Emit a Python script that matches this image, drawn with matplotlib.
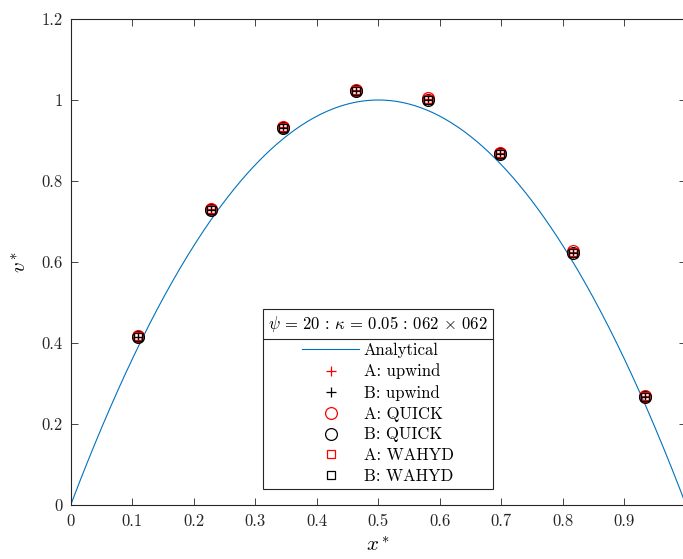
import numpy as np
import matplotlib
matplotlib.use("Agg")
import matplotlib.pyplot as plt
from matplotlib.ticker import FuncFormatter
from matplotlib.lines import Line2D

plt.rcParams['font.family'] = 'serif'
plt.rcParams['font.serif'] = ['cmr10']
plt.rcParams['mathtext.fontset'] = 'cm'
plt.rcParams['axes.formatter.use_mathtext'] = True

# sample locations and numerical results
x_pts = [0.110, 0.228, 0.345, 0.463, 0.581, 0.698, 0.816, 0.934]
v_upwind_a = [0.416, 0.730, 0.933, 1.024, 1.003, 0.869, 0.625, 0.269]
v_upwind_b = [0.414, 0.728, 0.931, 1.022, 1.001, 0.867, 0.623, 0.267]
v_quick_a = [0.418, 0.731, 0.934, 1.025, 1.004, 0.870, 0.626, 0.270]
v_quick_b = [0.414, 0.728, 0.931, 1.021, 1.000, 0.866, 0.622, 0.266]
v_wahyd_a = [0.417, 0.730, 0.933, 1.024, 1.003, 0.869, 0.625, 0.269]
v_wahyd_b = [0.414, 0.728, 0.931, 1.022, 1.001, 0.867, 0.623, 0.267]

legend_title = r'$\psi\,=\,20\,:\,\kappa\,=\,0.05\,:\,062\,\times\,062$'

# analytical profile
x_line = np.linspace(0, 1, 400)
v_line = 4 * x_line * (1 - x_line)

fig = plt.figure(figsize=(6.83, 5.59), dpi=100)
ax = fig.add_axes([70.7 / 683, 54 / 559, 615.3 / 683, 486 / 559])

ax.plot(x_line, v_line, color='#0072BD', lw=0.8, label='Analytical')
ax.plot(x_pts, v_upwind_a, ls='none', marker='+', ms=7, mew=0.9, color='red', label='A: upwind')
ax.plot(x_pts, v_upwind_b, ls='none', marker='+', ms=7, mew=0.9, color='black', label='B: upwind')
ax.plot(x_pts, v_quick_a, ls='none', marker='o', ms=8.5, mew=0.9, mfc='none', mec='red', label='A: QUICK')
ax.plot(x_pts, v_quick_b, ls='none', marker='o', ms=8.5, mew=0.9, mfc='none', mec='black', label='B: QUICK')
ax.plot(x_pts, v_wahyd_a, ls='none', marker='s', ms=5.5, mew=0.9, mfc='none', mec='red', label='A: WAHYD')
ax.plot(x_pts, v_wahyd_b, ls='none', marker='s', ms=5.5, mew=0.9, mfc='none', mec='black', label='B: WAHYD')

ax.set_xlim(0, 1)
ax.set_ylim(0, 1.2)
ax.set_xticks(np.arange(0, 1.01, 0.1))
ax.set_yticks(np.arange(0, 1.21, 0.2))
fmt = FuncFormatter(lambda v, p: '%g' % round(v, 2))
ax.xaxis.set_major_formatter(fmt)
ax.yaxis.set_major_formatter(fmt)
ax.tick_params(direction='in', length=5, width=0.6, colors='#262626',
               labelsize=12, top=True, right=True, pad=6)
for s in ax.spines.values():
    s.set_linewidth(0.8)
    s.set_color('#262626')

ax.set_xlabel(r'$x^*$', fontsize=15, labelpad=5)
ax.set_ylabel(r'$v^*$', fontsize=15, labelpad=8)

leg = ax.legend(loc='lower center', bbox_to_anchor=(0.4995, 0.033),
                title=legend_title, title_fontsize=12, fontsize=12,
                fancybox=False, framealpha=1, edgecolor='#262626',
                handlelength=3.4, handletextpad=0.3, numpoints=1,
                labelspacing=0.33, borderpad=0.3, borderaxespad=0)
leg.get_frame().set_linewidth(0.8)
leg._legend_box.sep = 6

# separator line between title and entries
fig.canvas.draw()
r = fig.canvas.get_renderer()
fb = leg.get_frame().get_window_extent(r)
hb = leg._legend_handle_box.get_window_extent(r)
ysep = hb.y1 + 4
inv = fig.transFigure.inverted()
(x0, y0) = inv.transform((fb.x0, ysep))
(x1, _) = inv.transform((fb.x1, ysep))
fig.add_artist(Line2D([x0, x1], [y0, y0], color='#262626', lw=0.8))

fig.savefig('out.png', dpi=100)
